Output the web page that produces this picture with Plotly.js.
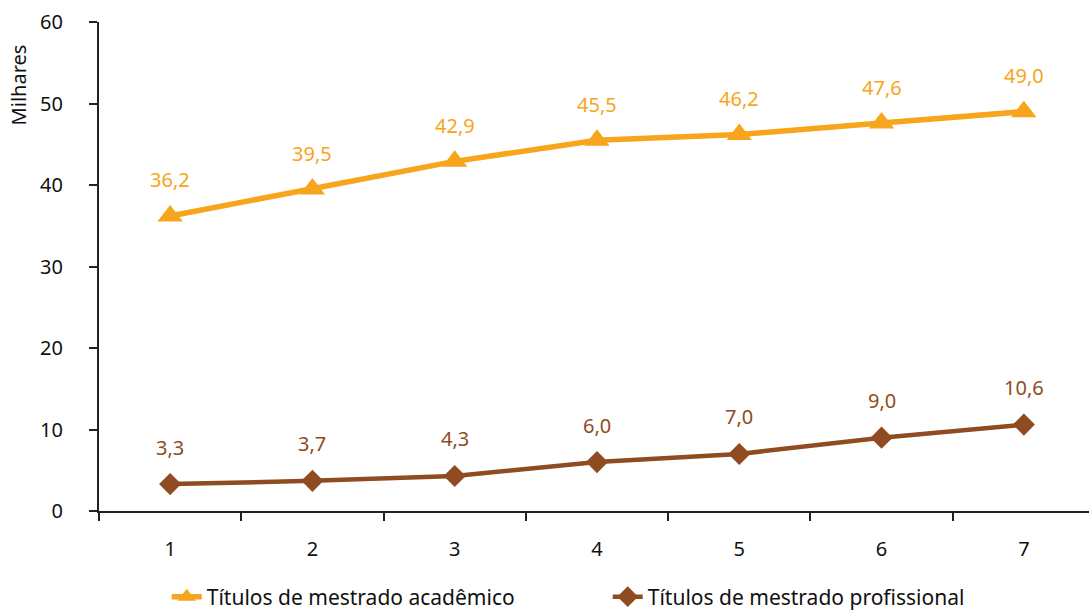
<!DOCTYPE html>
<html><head><meta charset="utf-8">
<script src="https://cdn.plot.ly/plotly-3.0.1.min.js"></script>
<style>html,body{margin:0;padding:0;overflow:hidden;background:#fff}</style>
</head><body><div id="chart"></div>
<script>
const categories = ["1","2","3","4","5","6","7"];
const academico = [36.2, 39.5, 42.9, 45.5, 46.2, 47.6, 49.0];
const profissional = [3.3, 3.7, 4.3, 6.0, 7.0, 9.0, 10.6];
const nameAcademico = "Títulos de mestrado acadêmico";
const nameProfissional = "Títulos de mestrado profissional";
const yTitle = "Milhares";

const orange = "#F7A51C";
const brown = "#8F4B21";
const fmt = v => v.toFixed(1).replace(".", ",");
const font = "Noto Sans, Open Sans, sans-serif";

const traces = [
  {x: categories, y: academico, name: nameAcademico, type: "scatter", mode: "lines+markers",
   line: {color: orange, width: 5.5}, marker: {symbol: "triangle-up", size: 22, color: orange}},
  {x: categories, y: profissional, name: nameProfissional, type: "scatter", mode: "lines+markers",
   line: {color: brown, width: 4.5}, marker: {symbol: "diamond", size: 17, color: brown}}
];

const annotations = [];
categories.forEach((c, i) => {
  annotations.push({x: i, y: academico[i], text: fmt(academico[i]), showarrow: false, yshift: 36,
    font: {family: font, size: 20, color: orange}});
  annotations.push({x: i, y: profissional[i], text: fmt(profissional[i]), showarrow: false, yshift: 37,
    font: {family: font, size: 20, color: brown}});
});
annotations.push({xref: "paper", yref: "paper", x: -0.081, y: 0.871, xanchor: "center", yanchor: "middle",
  text: yTitle, textangle: -90, showarrow: false, font: {family: font, size: 20, color: "#111"}});

const layout = {
  width: 1100, height: 640,
  margin: {l: 99, r: 5, t: 22, b: 129},
  paper_bgcolor: "#fff", plot_bgcolor: "#fff",
  font: {family: font, size: 20, color: "#111"},
  showlegend: true,
  legend: {orientation: "h", x: 0.068, xanchor: "left", y: -0.176, yanchor: "middle",
    font: {family: font, size: 21, color: "#111"}, entrywidth: 396, entrywidthmode: "pixels"},
  xaxis: {type: "category", range: [-0.5, 6.5], tickson: "boundaries", ticks: "outside", ticklen: 8,
    tickwidth: 2, tickcolor: "#222", showline: true, linecolor: "#222", linewidth: 2,
    showgrid: false, zeroline: false, ticklabelstandoff: 19, tickfont: {size: 20}},
  yaxis: {range: [0, 60], dtick: 10, ticks: "outside", ticklen: 8, tickwidth: 2, tickcolor: "#222",
    showline: true, linecolor: "#222", linewidth: 2, showgrid: false, zeroline: false,
    ticklabelstandoff: 22, tickfont: {size: 20}},
  annotations: annotations
};

Plotly.newPlot("chart", traces, layout, {displayModeBar: false, staticPlot: true});
</script></body></html>
